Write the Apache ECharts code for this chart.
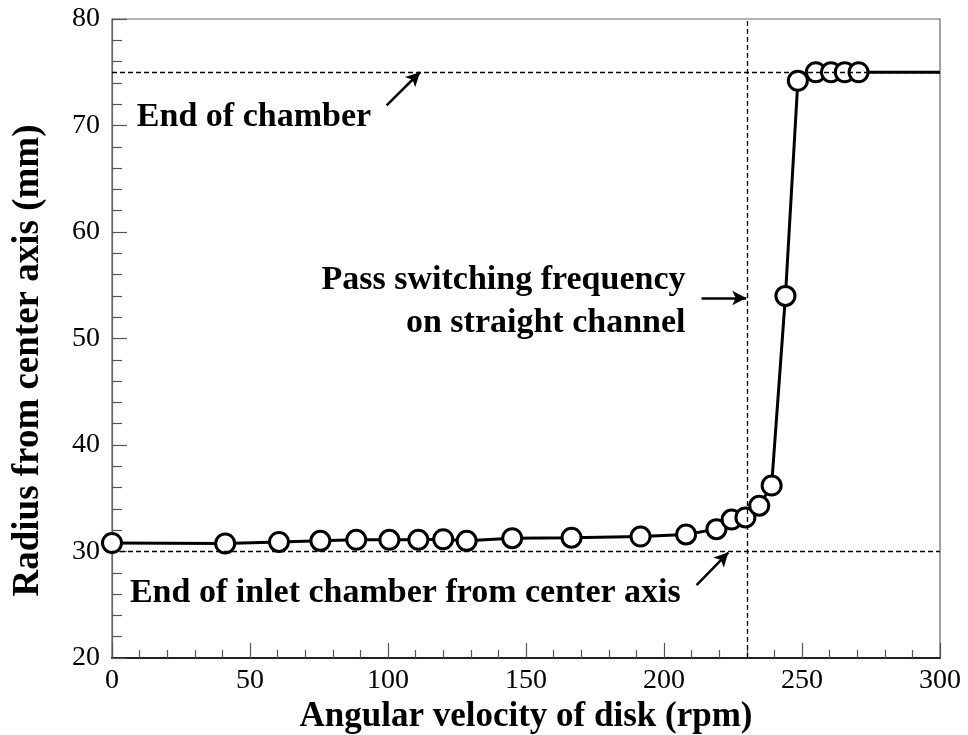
<!DOCTYPE html>
<html>
<head>
<meta charset="utf-8">
<script src="https://cdn.jsdelivr.net/npm/echarts@6/dist/echarts.min.js"></script>
<style>html,body{margin:0;padding:0;background:#fff}#c{width:968px;height:735px}</style>
</head>
<body>
<div id="c"></div>
<script>
// Measured points: angular velocity (rpm) and radius (mm)
var rpm    = [0, 41, 60.5, 75.5, 88.5, 100.5, 111, 120, 128.5, 145, 166.5, 191.5, 208, 219, 224.5, 229.5, 234.5, 239, 244, 248.5, 255, 260.5, 265.5, 270.5];
var radius = [30.8, 30.75, 30.9, 31.0, 31.1, 31.1, 31.1, 31.15, 31.0, 31.25, 31.3, 31.4, 31.6, 32.1, 33.0, 33.2, 34.3, 36.2, 54.0, 74.2, 75.0, 75.0, 75.0, 75.0];
// Line continues past the last measured point
var tailRpm = [270.5, 300];
var tailRadius = [75.0, 75.0];
// Reference lines
var chamberEnd = 75;
var inletEnd = 30;
var switchRpm = 230;
// Axis ranges and ticks
var xMin = 0, xMax = 300, xStep = 50;
var yMin = 20, yMax = 80, yStep = 10;
// Annotation texts
var noteChamber = 'End of chamber';
var noteSwitch = 'Pass switching frequency\non straight channel';
var noteInlet = 'End of inlet chamber from center axis';
// Annotation anchors (data coordinates)
var noteChamberAt = [9, 70.8];
var noteSwitchAt = [207.8, 53.5];
var noteInletAt = [6.5, 26.1];
// Arrows [from, to] in data coordinates
var arrowChamber = [[99.5, 71.9], [111.6, 75.0]];
var arrowSwitch = [[213.6, 53.8], [229.8, 53.8]];
var arrowInlet = [[211.8, 26.85], [223.3, 29.9]];

var serif = "'Liberation Serif', 'Times New Roman', serif";

var mainData = rpm.map(function (x, i) { return [x, radius[i]]; });
var tailData = tailRpm.map(function (x, i) { return [x, tailRadius[i]]; });

function arrowLine(a) {
  return [{ coord: a[0], symbol: 'none' }, { coord: a[1], symbol: 'arrow', symbolSize: [11, 14] }];
}
function note(anchor, text, pos, align) {
  return {
    value: anchor,
    label: {
      show: true, formatter: text, position: pos, distance: 0, align: align,
      verticalAlign: 'middle', fontFamily: serif, fontWeight: 'bold', fontSize: 34,
      lineHeight: 43, color: '#000', opacity: 1
    }
  };
}

var chart = echarts.init(document.getElementById('c'), null, { renderer: 'canvas' });
chart.setOption({
  animation: false,
  backgroundColor: '#fff',
  grid: { left: 112, right: 28, top: 19, bottom: 77, containLabel: false, outerBoundsMode: 'none',
          show: true, borderColor: '#666', borderWidth: 1.2, backgroundColor: 'transparent' },
  xAxis: {
    type: 'value', min: xMin, max: xMax, interval: xStep,
    name: 'Angular velocity of disk (rpm)', nameLocation: 'middle', nameGap: 31,
    nameTextStyle: { fontFamily: serif, fontWeight: 'bold', fontSize: 35, color: '#000' },
    axisLine: { show: true, onZero: false, lineStyle: { color: '#222', width: 2 } },
    axisTick: { show: true, inside: true, length: 15, lineStyle: { color: '#555', width: 1.2 } },
    minorTick: { show: true, splitNumber: 5, length: 8, lineStyle: { color: '#555', width: 1.2 } },
    axisLabel: { fontFamily: serif, fontSize: 28, color: '#000', margin: 9 },
    splitLine: { show: false }
  },
  yAxis: {
    type: 'value', min: yMin, max: yMax, interval: yStep,
    name: 'Radius from center axis (mm)', nameLocation: 'middle', nameGap: 65,
    nameTextStyle: { fontFamily: serif, fontWeight: 'bold', fontSize: 37, color: '#000', padding: [0, 44, 0, 0] },
    axisLine: { show: true, onZero: false, lineStyle: { color: '#666', width: 1.2 } },
    axisTick: { show: true, inside: true, length: 15, lineStyle: { color: '#555', width: 1.2 } },
    minorTick: { show: true, splitNumber: 5, length: 10, lineStyle: { color: '#555', width: 1.2 } },
    axisLabel: { fontFamily: serif, fontSize: 28, color: '#000', margin: 12 },
    splitLine: { show: false }
  },
  series: [
    {
      type: 'line', data: [], silent: true, z: 1,
      markLine: {
        silent: true, symbol: 'none', label: { show: false },
        lineStyle: { type: [5, 3], color: '#000', width: 1.3 },
        data: [
          [{ coord: [xMin, chamberEnd] }, { coord: [xMax, chamberEnd] }],
          [{ coord: [xMin, inletEnd] }, { coord: [xMax, inletEnd] }],
          [{ coord: [switchRpm, yMin] }, { coord: [switchRpm, yMax] }]
        ]
      }
    },
    {
      type: 'line', data: [], silent: true, z: 4,
      markLine: {
        silent: true, label: { show: false },
        lineStyle: { type: 'solid', color: '#000', width: 2.5 },
        data: [arrowLine(arrowChamber), arrowLine(arrowSwitch), arrowLine(arrowInlet)]
      }
    },
    {
      type: 'line', data: tailData, showSymbol: false, symbol: 'none', z: 2,
      lineStyle: { color: '#000', width: 3 }
    },
    {
      type: 'line', data: mainData, z: 3,
      symbol: 'circle', symbolSize: 19, showAllSymbol: true,
      itemStyle: { color: '#fff', borderColor: '#000', borderWidth: 3 },
      lineStyle: { color: '#000', width: 3 }
    },
    {
      type: 'scatter', symbolSize: 0, z: 5, silent: true,
      itemStyle: { opacity: 1 },
      data: [
        note(noteChamberAt, noteChamber, 'right', 'left'),
        note(noteSwitchAt, noteSwitch, 'left', 'right'),
        note(noteInletAt, noteInlet, 'right', 'left')
      ]
    }
  ]
});
</script>
</body>
</html>
